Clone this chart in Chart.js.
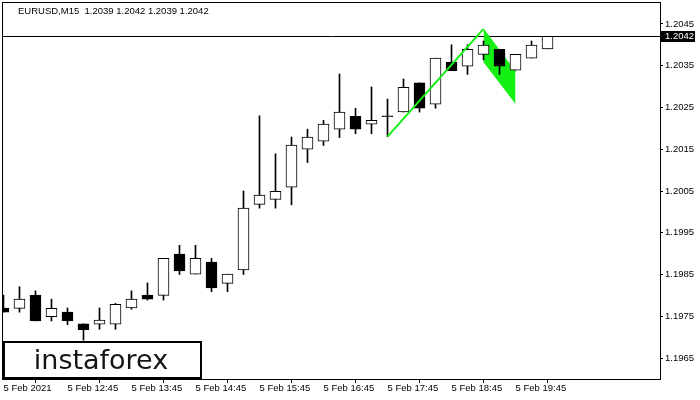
<!DOCTYPE html>
<html>
<head>
<meta charset="utf-8">
<script src="https://cdn.jsdelivr.net/npm/chart.js@4"></script>
<style>
    html, body { margin: 0; padding: 0; background: #fff; }
    #wrap { width: 700px; height: 400px; }
</style>
</head>
<body>
<div id="wrap"><canvas id="priceChart"></canvas></div>
<script>
//#region Data
const times = [
    "11:45", "12:00", "12:15", "12:30", "12:45", "13:00", "13:15", "13:30",
    "13:45", "14:00", "14:15", "14:30", "14:45", "15:00", "15:15", "15:30",
    "15:45", "16:00", "16:15", "16:30", "16:45", "17:00", "17:15", "17:30",
    "17:45", "18:00", "18:15", "18:30", "18:45", "19:00", "19:15", "19:30",
    "19:45", "20:00", "20:15"
];
const opens = [
    1.19770, 1.19769, 1.19801, 1.19749, 1.19760, 1.19732, 1.19731, 1.19731,
    1.19770, 1.19801, 1.19800, 1.19899, 1.19851, 1.19880, 1.19829, 1.19861,
    1.20018, 1.20030, 1.20059, 1.20150, 1.20169, 1.20198, 1.20229, 1.20210,
    1.20230, 1.20239, 1.20309, 1.20258, 1.20358, 1.20349, 1.20377, 1.20389,
    1.20339, 1.20368, 1.20390
];
const highs = [
    1.19801, 1.19821, 1.19811, 1.19791, 1.19770, 1.19732, 1.19770, 1.19781,
    1.19811, 1.19830, 1.19889, 1.19920, 1.19920, 1.19889, 1.19851, 1.20050,
    1.20230, 1.20139, 1.20179, 1.20198, 1.20219, 1.20330, 1.20248, 1.20299,
    1.20270, 1.20318, 1.20309, 1.20368, 1.20400, 1.20400, 1.20409, 1.20389,
    1.20377, 1.20409, 1.20420
];
const lows = [
    1.19760, 1.19760, 1.19739, 1.19739, 1.19730, 1.19693, 1.19719, 1.19719,
    1.19767, 1.19789, 1.19789, 1.19850, 1.19851, 1.19809, 1.19809, 1.19850,
    1.20009, 1.20009, 1.20017, 1.20118, 1.20159, 1.20178, 1.20187, 1.20187,
    1.20180, 1.20239, 1.20239, 1.20248, 1.20338, 1.20329, 1.20364, 1.20329,
    1.20339, 1.20368, 1.20390
];
const closes = [
    1.19760, 1.19791, 1.19739, 1.19769, 1.19739, 1.19718, 1.19741, 1.19779,
    1.19791, 1.19791, 1.19889, 1.19859, 1.19889, 1.19818, 1.19851, 1.20009,
    1.20040, 1.20049, 1.20160, 1.20179, 1.20210, 1.20239, 1.20198, 1.20219,
    1.20228, 1.20298, 1.20248, 1.20368, 1.20338, 1.20389, 1.20399, 1.20349,
    1.20377, 1.20399, 1.20420
];

const priceTicks = [1.1965, 1.1975, 1.1985, 1.1995, 1.2005, 1.2015, 1.2025, 1.2035, 1.2045];
const timeTickIdx = [0, 4, 8, 12, 16, 20, 24, 28, 32];
const firstTickLabel = "5 Feb 2021";
const dayLabel = "5 Feb";
const headerText = "EURUSD,M15  1.2039 1.2042 1.2039 1.2042";
const logoText = "instaforex";

// flag pattern (pole + flag body)
const poleIdx = [24, 30];
const polePrice = [1.20180, 1.20438];
const flagIdx = [30, 32];
const flagTop = [1.20438, 1.20335];
const flagBottom = [1.20360, 1.20260];
//#endregion

//#region Chart
const GREEN = "#14f014";
const FONT = "Liberation Sans";

const decorPlugin = {
    id: "decor",
    beforeDatasetsDraw(chart) {
        const { ctx, chartArea: a, scales: { y } } = chart;
        const py = Math.round(y.getPixelForValue(closes[closes.length - 1])) + 0.5;
        ctx.save();
        ctx.strokeStyle = "#000";
        ctx.lineWidth = 1;
        ctx.beginPath();
        ctx.moveTo(a.left, py);
        ctx.lineTo(a.right, py);
        ctx.stroke();
        ctx.restore();
    },
    afterDraw(chart) {
        const { ctx, chartArea: a, scales: { y } } = chart;
        ctx.save();
        // frame
        ctx.strokeStyle = "#000";
        ctx.lineWidth = 1;
        ctx.strokeRect(a.left - 0.5, a.top - 0.5, a.right - a.left + 1, a.bottom - a.top + 1);

        // header
        ctx.fillStyle = "#000";
        ctx.font = "9.5px '" + FONT + "'";
        ctx.textBaseline = "middle";
        ctx.textAlign = "left";
        ctx.fillText(headerText, a.left + 15, a.top + 8);

        // last price label
        const last = closes[closes.length - 1];
        const py = Math.round(y.getPixelForValue(last));
        ctx.fillStyle = "#000";
        ctx.fillRect(a.right + 1, py - 5, 34, 11);
        ctx.fillStyle = "#fff";
        ctx.fillText(last.toFixed(4), a.right + 5, py + 0.5);

        // logo box
        ctx.fillStyle = "#fff";
        ctx.fillRect(a.left, 341, 198, 37);
        ctx.lineWidth = 2;
        ctx.strokeStyle = "#000";
        ctx.strokeRect(a.left + 1, 342, 197, 36);
        ctx.fillStyle = "#151515";
        ctx.font = "27px 'DejaVu Sans'";
        ctx.textAlign = "center";
        ctx.textBaseline = "alphabetic";
        ctx.fillText(logoText, 101, 369);
        ctx.restore();
    }
};

function LoadPriceChart() {
    const element = document.querySelector("#priceChart");
    const candleIdx = times.map((t, i) => i);
    const chart = new Chart(element, {
        type: "bar",
        data: {
            datasets: [
                {
                    type: "line",
                    data: poleIdx.map((x, i) => ({ x: x, y: polePrice[i] })),
                    borderColor: GREEN,
                    borderWidth: 2,
                    pointRadius: 0,
                    fill: false,
                    order: 1
                },
                {
                    data: candleIdx.map(i => ({ x: i, y: [opens[i], closes[i]] })),
                    backgroundColor: candleIdx.map(i => closes[i] < opens[i] ? "#000" : "#fff"),
                    borderColor: "#000",
                    borderWidth: 1,
                    borderSkipped: false,
                    barThickness: 11,
                    grouped: false,
                    order: 2
                },
                {
                    data: candleIdx.map(i => ({ x: i, y: [lows[i], highs[i]] })),
                    backgroundColor: "#000",
                    borderWidth: 0,
                    barThickness: 1,
                    grouped: false,
                    order: 3
                },
                {
                    type: "line",
                    data: flagIdx.map((x, i) => ({ x: x, y: flagTop[i] })),
                    borderColor: GREEN,
                    borderWidth: 1,
                    pointRadius: 0,
                    fill: false,
                    order: 5
                },
                {
                    type: "line",
                    data: flagIdx.map((x, i) => ({ x: x, y: flagBottom[i] })),
                    borderColor: GREEN,
                    backgroundColor: GREEN,
                    borderWidth: 1,
                    pointRadius: 0,
                    fill: 3,
                    order: 4
                }
            ]
        },
        options: {
            responsive: true,
            maintainAspectRatio: false,
            animation: false,
            layout: { padding: { left: 3, top: 3, right: 0, bottom: 0 } },
            plugins: {
                legend: { display: false },
                tooltip: { enabled: false }
            },
            scales: {
                x: {
                    type: "linear",
                    min: -0.03,
                    max: 41.03,
                    offset: false,
                    border: { display: false },
                    grid: { drawOnChartArea: false, drawTicks: true, tickLength: 4, color: "#000" },
                    ticks: {
                        color: "#000",
                        font: { family: FONT, size: 9.5 },
                        align: "start",
                        autoSkip: false,
                        maxRotation: 0,
                        padding: 0,
                        callback: v => v === 0 ? firstTickLabel : dayLabel + " " + times[v]
                    },
                    afterBuildTicks: s => { s.ticks = timeTickIdx.map(v => ({ value: v })); },
                    afterFit: s => { s.height = 21; s.paddingLeft = 0; s.paddingRight = 0; }
                },
                y: {
                    position: "right",
                    min: 1.196,
                    max: 1.205,
                    border: { display: false },
                    grid: { drawOnChartArea: false, drawTicks: true, tickLength: 3, color: "#000" },
                    ticks: {
                        color: "#000",
                        font: { family: FONT, size: 9.5 },
                        padding: 2,
                        callback: v => v.toFixed(4)
                    },
                    afterBuildTicks: s => { s.ticks = priceTicks.map(v => ({ value: v })); },
                    afterFit: s => { s.width = 40; s.paddingTop = 0; s.paddingBottom = 0; }
                }
            }
        },
        plugins: [decorPlugin]
    });
}

window.addEventListener("DOMContentLoaded", () => {
    LoadPriceChart();
});
//#endregion
</script>
</body>
</html>
